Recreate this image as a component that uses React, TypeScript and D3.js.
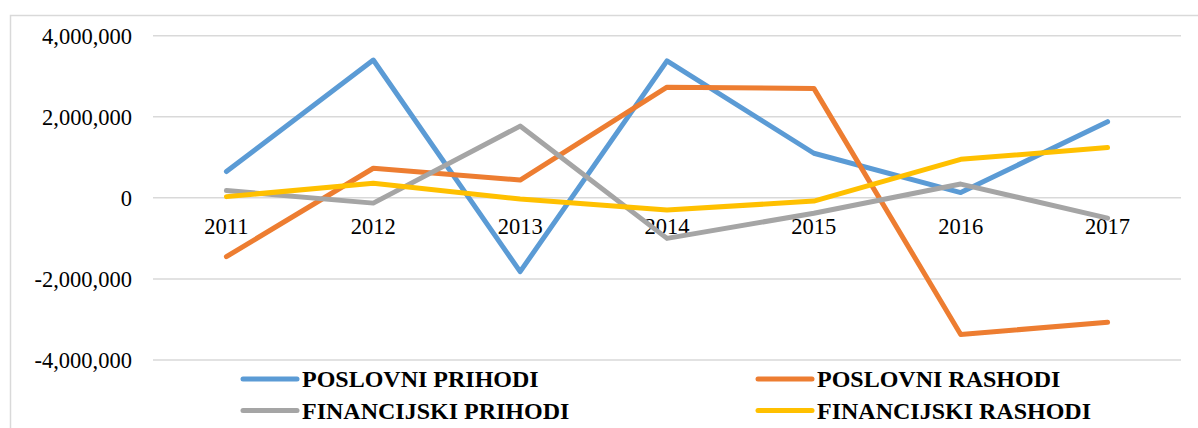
import React from "react";
import * as d3 from "d3";

const years = ["2011", "2012", "2013", "2014", "2015", "2016", "2017"];
const poslovniPrihodi = [650000, 3400000, -1820000, 3380000, 1100000, 130000, 1880000];
const poslovniRashodi = [-1450000, 730000, 440000, 2730000, 2700000, -3370000, -3070000];
const financijskiPrihodi = [180000, -130000, 1770000, -1000000, -380000, 340000, -500000];
const financijskiRashodi = [30000, 360000, -30000, -300000, -80000, 950000, 1240000];
const yTicks = [-4000000, -2000000, 0, 2000000, 4000000];

const series = [
  { name: "POSLOVNI PRIHODI", values: poslovniPrihodi, color: "#5B9BD5" },
  { name: "POSLOVNI RASHODI", values: poslovniRashodi, color: "#ED7D31" },
  { name: "FINANCIJSKI PRIHODI", values: financijskiPrihodi, color: "#A5A5A5" },
  { name: "FINANCIJSKI RASHODI", values: financijskiRashodi, color: "#FFC000" },
];

const W = 1198;
const H = 428;
const font = "'Liberation Serif', 'Times New Roman', serif";

export default function App() {
  const x = d3.scaleBand().domain(years).range([153, 1181]);
  const y = d3.scaleLinear().domain([-4000000, 4000000]).range([360, 35.7]);
  // plain hyphen for negatives, like the original
  const fmt = (v: number) => d3.format(",")(v).replace("\u2212", "-");

  const line = d3
    .line<number>()
    .x((d, i) => (x(years[i]) as number) + x.bandwidth() / 2)
    .y((d) => y(d));

  const legendPos = [
    { lx: 243, ly: 379 },
    { lx: 758, ly: 379 },
    { lx: 243, ly: 410.5 },
    { lx: 758, ly: 410.5 },
  ];

  return (
    <svg width={W} height={H} style={{ position: "absolute", left: 0, top: 0 }}>
      <rect x={0} y={0} width={W} height={H} fill="#fff" />
      <rect x={10.5} y={15.5} width={W + 10} height={H + 10} fill="none" stroke="#D9D9D9" strokeWidth={1.5} />
      {yTicks.map((t) => (
        <g key={t}>
          <line x1={153} x2={1181} y1={y(t)} y2={y(t)} stroke="#D9D9D9" strokeWidth={1.5} />
          <text x={132} y={y(t) + 8} textAnchor="end" fontFamily={font} fontSize={22.5} fill="#000">
            {fmt(t)}
          </text>
        </g>
      ))}
      {years.map((yr) => (
        <text
          key={yr}
          x={(x(yr) as number) + x.bandwidth() / 2}
          y={234}
          textAnchor="middle"
          fontFamily={font}
          fontSize={22.5}
          fill="#000"
        >
          {yr}
        </text>
      ))}
      {series.map((s) => (
        <path
          key={s.name}
          d={line(s.values) || ""}
          fill="none"
          stroke={s.color}
          strokeWidth={5}
          strokeLinecap="round"
          strokeLinejoin="round"
        />
      ))}
      {series.map((s, i) => (
        <g key={s.name}>
          <line
            x1={legendPos[i].lx}
            x2={legendPos[i].lx + 54}
            y1={legendPos[i].ly}
            y2={legendPos[i].ly}
            stroke={s.color}
            strokeWidth={5}
            strokeLinecap="round"
          />
          <text
            x={legendPos[i].lx + 59}
            y={legendPos[i].ly + 8}
            fontFamily={font}
            fontSize={24}
            fontWeight="bold"
            fill="#000"
          >
            {s.name}
          </text>
        </g>
      ))}
    </svg>
  );
}
